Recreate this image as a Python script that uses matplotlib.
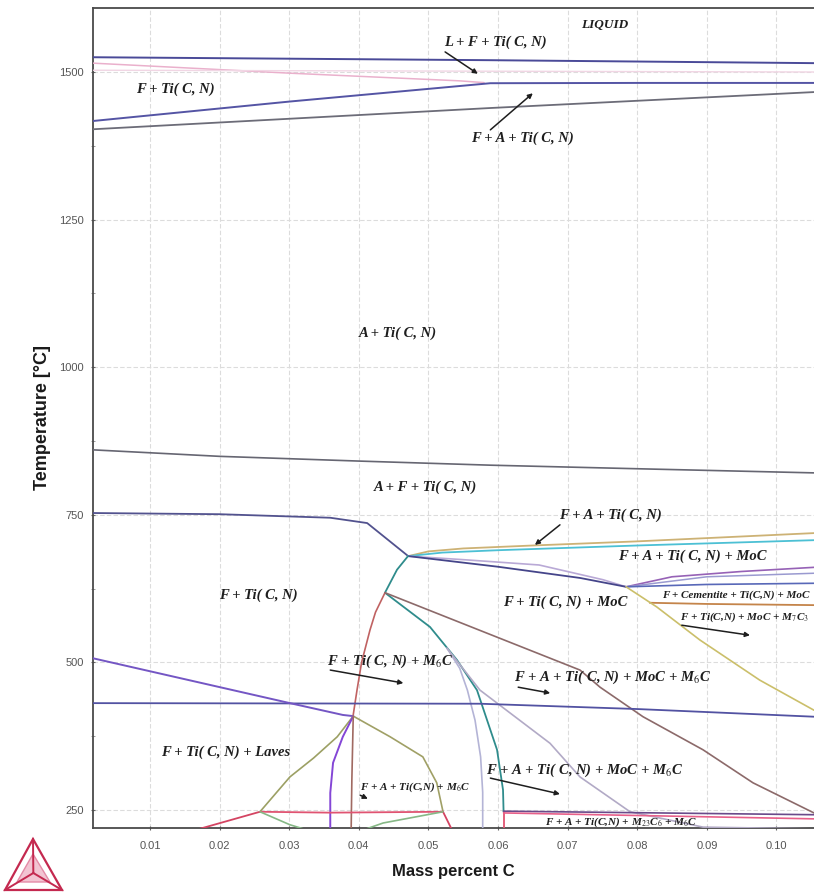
import matplotlib
matplotlib.use("Agg")
import matplotlib.pyplot as plt
from matplotlib.ticker import MultipleLocator, FixedLocator
from matplotlib.patches import Polygon
from matplotlib.lines import Line2D

plt.rcParams['mathtext.fontset'] = 'stix'

# ---------------- phase boundaries (mass percent C, temperature in °C) ----------------
liquidus_c = [0.0018, 0.0589, 0.1054]
liquidus_t = [1525, 1520, 1515]

solidus_c = [0.0018, 0.0301, 0.0545, 0.0580]
solidus_t = [1515, 1498, 1485, 1482]

faint_c = [0.0018, 0.1054]
faint_t = [1503, 1500]

delta_upper_c = [0.0018, 0.0301, 0.0589, 0.0800, 0.1054]
delta_upper_t = [1417, 1450, 1481, 1481.5, 1481.5]

delta_lower_c = [0.0018, 0.0589, 0.1054]
delta_lower_t = [1403, 1439, 1466]

a3_c = [0.0018, 0.0200, 0.0400, 0.0590, 0.0800, 0.1054]
a3_t = [860, 849, 841, 834, 828, 821]

a1_c = [0.0018, 0.0200, 0.0359, 0.0412, 0.0471]
a1_t = [753, 751, 745, 736, 680]

moc_yellow_c = [0.0471, 0.0500, 0.0550, 0.0650, 0.0800, 0.1054]
moc_yellow_t = [680, 688, 693, 698, 705, 719]

moc_cyan_c = [0.0471, 0.0520, 0.0600, 0.0800, 0.1054]
moc_cyan_t = [680, 686, 690, 698, 707]

lav_arc_c = [0.0471, 0.0550, 0.0659, 0.0751, 0.0784]
lav_arc_t = [680, 674, 665, 640, 628]

dark_tie_c = [0.0471, 0.0600, 0.0718, 0.0784]
dark_tie_t = [680, 662, 643, 628]

cem_purple_c = [0.0784, 0.0850, 0.0950, 0.1054]
cem_purple_t = [628, 645, 654, 661]

cem_lav_c = [0.0784, 0.0900, 0.1054]
cem_lav_t = [628, 645, 651]

cem_blue_c = [0.0784, 0.0900, 0.1054]
cem_blue_t = [628, 632, 634]

m7c3_orange_c = [0.0818, 0.0900, 0.1054]
m7c3_orange_t = [601, 599, 597]

m7c3_yellow_c = [0.0784, 0.0828, 0.0890, 0.0976, 0.1054]
m7c3_yellow_t = [628, 594, 538, 470, 419]

teal_c = [0.04707, 0.04549, 0.04376, 0.05023, 0.05411, 0.05698, 0.05986, 0.06072, 0.0608]
teal_t = [680, 657, 618, 560, 504, 453, 352, 284, 247]

red_upper_c = [0.04376, 0.04240, 0.04161, 0.04040, 0.03974, 0.03917]
red_upper_t = [618, 585, 555, 500, 453, 409]

brown_c = [0.04376, 0.07178, 0.07466, 0.08083, 0.08945, 0.09664, 0.1054]
brown_t = [618, 487, 458, 408, 352, 296, 245]

m6c_arc_c = [0.05267, 0.0545, 0.0556, 0.0567, 0.0575, 0.0578, 0.0578]
m6c_arc_t = [524, 490, 453, 402, 340, 280, 216]

grey_tail_c = [0.05267, 0.05741, 0.06747, 0.07178, 0.07897, 0.08945, 0.1054]
grey_tail_t = [524, 453, 363, 306, 247, 221, 218]

laves_flat_c = [0.0018, 0.0574, 0.0800, 0.1054]
laves_flat_t = [431, 430, 421, 408]

laves_slope_c = [0.0018, 0.0301, 0.0377, 0.0392]
laves_slope_t = [507, 431, 411, 409]

olive_right_c = [0.0392, 0.0445, 0.0492, 0.0512, 0.0521]
olive_right_t = [409, 374, 340, 296, 247]

olive_left_c = [0.0392, 0.0369, 0.0335, 0.0301, 0.0258]
olive_left_t = [409, 374, 338, 306, 247]

violet_drop_c = [0.0392, 0.0377, 0.0363, 0.0359, 0.0359]
violet_drop_t = [409, 374, 330, 279, 216]

brown_vert_c = [0.0392, 0.0390, 0.0389]
brown_vert_t = [409, 300, 216]

pink_flat_c = [0.0258, 0.0359, 0.0521]
pink_flat_t = [247, 245.5, 247]

red_low_left_c = [0.0258, 0.0165]
red_low_left_t = [247, 216]

red_low_right_c = [0.0521, 0.0534]
red_low_right_t = [247, 216]

green_left_c = [0.0258, 0.0301, 0.0326]
green_left_t = [247, 225, 216]

green_right_c = [0.0521, 0.0435, 0.0406]
green_right_t = [247, 228, 216]

pink_vert_c = [0.0608, 0.0608]
pink_vert_t = [247, 216]

m23_dark_c = [0.0608, 0.1054]
m23_dark_t = [248, 242]

m23_pink_c = [0.0608, 0.1054]
m23_pink_t = [245, 235]

# ---------------- region labels ----------------
label_texts = [
    "LIQUID", "L + F + Ti( C, N)", "F + Ti( C, N)", "F + A + Ti( C, N)",
    "A + Ti( C, N)", "A + F + Ti( C, N)", "F + A + Ti( C, N)",
    "F + A + Ti( C, N) + MoC", "F + Ti( C, N)", "F + Ti( C, N) + MoC",
    r"F + Ti( C, N) + M$_6$C", r"F + A + Ti( C, N) + MoC + M$_6$C",
    "F + Ti( C, N) + Laves", r"F + A + Ti( C, N) + MoC + M$_6$C",
]
label_c = [0.0754, 0.0596, 0.0137, 0.0635, 0.0456, 0.0495, 0.0762,
           0.0879, 0.0255, 0.0696, 0.0445, 0.0764, 0.0208, 0.0725]
label_t = [1580, 1551, 1470, 1388, 1058, 797, 750,
           680, 614, 602, 502, 474, 348, 318]

small_texts = ["F + Cementite + Ti(C,N) + MoC",
               r"F + Ti(C,N) + MoC + M$_7$C$_3$",
               r"F + A + Ti(C,N) + M$_6$C",
               r"F + A + Ti(C,N) + M$_{23}$C$_6$ + M$_6$C"]
small_c = [0.0836, 0.0862, 0.0481, 0.0777]
small_t = [614, 577, 289, 230]
small_ha = ["left", "left", "center", "center"]

# arrows: (tail c, tail T) -> (tip c, tip T)
arrow_tail_c = [0.0524, 0.0589, 0.0689, 0.0864, 0.0359, 0.0629, 0.0589, 0.0402]
arrow_tail_t = [1534, 1402, 733, 563, 487, 458, 304, 275]
arrow_tip_c = [0.0571, 0.0650, 0.0653, 0.0962, 0.0464, 0.0675, 0.0689, 0.0413]
arrow_tip_t = [1497, 1464, 699, 546, 465, 448, 277, 269]

x_ticks = [0.01, 0.02, 0.03, 0.04, 0.05, 0.06, 0.07, 0.08, 0.09, 0.10]
y_ticks = [250, 500, 750, 1000, 1250, 1500]

curves = [
    (liquidus_c, liquidus_t, "#4a4a98", 1.4),
    (solidus_c, solidus_t, "#eab0cc", 1.1),
    (faint_c, faint_t, "#f1d6e4", 1.0),
    (delta_upper_c, delta_upper_t, "#5454a4", 1.4),
    (delta_lower_c, delta_lower_t, "#6c6c78", 1.3),
    (a3_c, a3_t, "#666672", 1.2),
    (a1_c, a1_t, "#52528e", 1.3),
    (moc_yellow_c, moc_yellow_t, "#cdb275", 1.3),
    (moc_cyan_c, moc_cyan_t, "#4cc0d4", 1.3),
    (lav_arc_c, lav_arc_t, "#b9a9d6", 1.2),
    (dark_tie_c, dark_tie_t, "#45458a", 1.3),
    (cem_purple_c, cem_purple_t, "#9662b6", 1.2),
    (cem_lav_c, cem_lav_t, "#9a9ad0", 1.1),
    (cem_blue_c, cem_blue_t, "#5868b8", 1.2),
    (m7c3_orange_c, m7c3_orange_t, "#c4844a", 1.3),
    (m7c3_yellow_c, m7c3_yellow_t, "#cbbf6a", 1.2),
    (teal_c, teal_t, "#2f8c8c", 1.3),
    (red_upper_c, red_upper_t, "#c06262", 1.2),
    (brown_c, brown_t, "#8c6a6a", 1.2),
    (m6c_arc_c, m6c_arc_t, "#b4b4d6", 1.2),
    (grey_tail_c, grey_tail_t, "#b2aac6", 1.2),
    (laves_flat_c, laves_flat_t, "#5252a2", 1.3),
    (laves_slope_c, laves_slope_t, "#7456c4", 1.4),
    (olive_right_c, olive_right_t, "#a0a066", 1.2),
    (olive_left_c, olive_left_t, "#9ca064", 1.2),
    (violet_drop_c, violet_drop_t, "#8446d6", 1.4),
    (brown_vert_c, brown_vert_t, "#a06a62", 1.2),
    (pink_flat_c, pink_flat_t, "#e05472", 1.3),
    (red_low_left_c, red_low_left_t, "#d44462", 1.3),
    (red_low_right_c, red_low_right_t, "#d44462", 1.3),
    (green_left_c, green_left_t, "#86b886", 1.2),
    (green_right_c, green_right_t, "#86b886", 1.2),
    (pink_vert_c, pink_vert_t, "#e05472", 1.3),
    (m23_dark_c, m23_dark_t, "#6a4a8a", 1.2),
    (m23_pink_c, m23_pink_t, "#e8608a", 1.2),
]

W, H = 814, 894
fig = plt.figure(figsize=(W / 100, H / 100), dpi=100)
ax = fig.add_axes([93 / W, 1 - 828 / H, 1 - 93 / W, (828 - 8) / H])

ax.set_xlim(0.00181, 0.10540)
ax.set_ylim(219.5, 1608.4)

for xs, ts, col, lw in curves:
    ax.plot(xs, ts, color=col, lw=lw, solid_capstyle="round",
            solid_joinstyle="round", zorder=3)

label_font = dict(family="Liberation Serif", style="italic", weight="bold",
                  color="#1e1e1e")
for txt, c, t in zip(label_texts, label_c, label_t):
    size = 9.5 if txt == "LIQUID" else 10.5
    ax.text(c, t, txt, fontsize=size, ha="center", va="center", zorder=5, **label_font)
for txt, c, t, ha in zip(small_texts, small_c, small_t, small_ha):
    ax.text(c, t, txt, fontsize=8, ha=ha, va="center", zorder=5, **label_font)

for c0, t0, c1, t1 in zip(arrow_tail_c, arrow_tail_t, arrow_tip_c, arrow_tip_t):
    ax.annotate("", xy=(c1, t1), xytext=(c0, t0), zorder=6,
                arrowprops=dict(arrowstyle="-|>", color="#1e1e1e", lw=1.1,
                                mutation_scale=7, shrinkA=0, shrinkB=0))

# axes frame, ticks and grid
ax.xaxis.set_major_locator(FixedLocator(x_ticks))
ax.yaxis.set_major_locator(FixedLocator(y_ticks))
ax.yaxis.set_minor_locator(MultipleLocator(125))
ax.set_xticklabels([f"{v:.2f}" for v in x_ticks])
ax.set_yticklabels([str(v) for v in y_ticks])
ax.tick_params(axis="both", which="major", labelsize=8, labelcolor="#555555",
               color="#666666", length=3, direction="inout")
ax.tick_params(axis="x", pad=8)
ax.tick_params(axis="y", pad=5)
ax.tick_params(axis="y", which="minor", length=3, color="#888888", direction="inout")
for lab in ax.get_xticklabels() + ax.get_yticklabels():
    lab.set_fontfamily("Liberation Sans")

ax.grid(True, which="major", color="#dcdcdc", lw=0.8, ls=(0, (4, 2)), zorder=0)
for side in ("top", "left", "bottom"):
    ax.spines[side].set_color("#4a4a4a")
    ax.spines[side].set_linewidth(1.3)
ax.spines["right"].set_visible(False)

ax.set_xlabel("Mass percent C", fontsize=12, fontweight="bold",
              family="Liberation Sans", color="#1a1a1a", labelpad=9)
ax.set_ylabel("Temperature [°C]", fontsize=13, fontweight="bold",
              family="Liberation Sans", color="#1a1a1a", labelpad=6)

# Thermo-Calc style triangle mark in the lower left corner
logo = fig.add_axes([0, 0, 70 / W, 60 / H])
logo.set_xlim(0, 70)
logo.set_ylim(0, 60)
logo.axis("off")
apex, left, right = (33, 55), (5, 4), (62, 4)
cx, cy = (apex[0] + left[0] + right[0]) / 3, (apex[1] + left[1] + right[1]) / 3
logo.add_patch(Polygon([apex, left, right], closed=True, fill=False,
                       edgecolor="#c4294f", lw=1.6))
logo.add_patch(Polygon([(33, 40), (17, 12), (50, 12)], closed=True,
                       facecolor="#f2c4d2", edgecolor="#e48aa6", lw=1.0))
for vx, vy in (apex, left, right):
    logo.add_line(Line2D([vx, cx], [vy, cy], color="#c4294f", lw=1.4))

fig.savefig("out.png", dpi=100)
